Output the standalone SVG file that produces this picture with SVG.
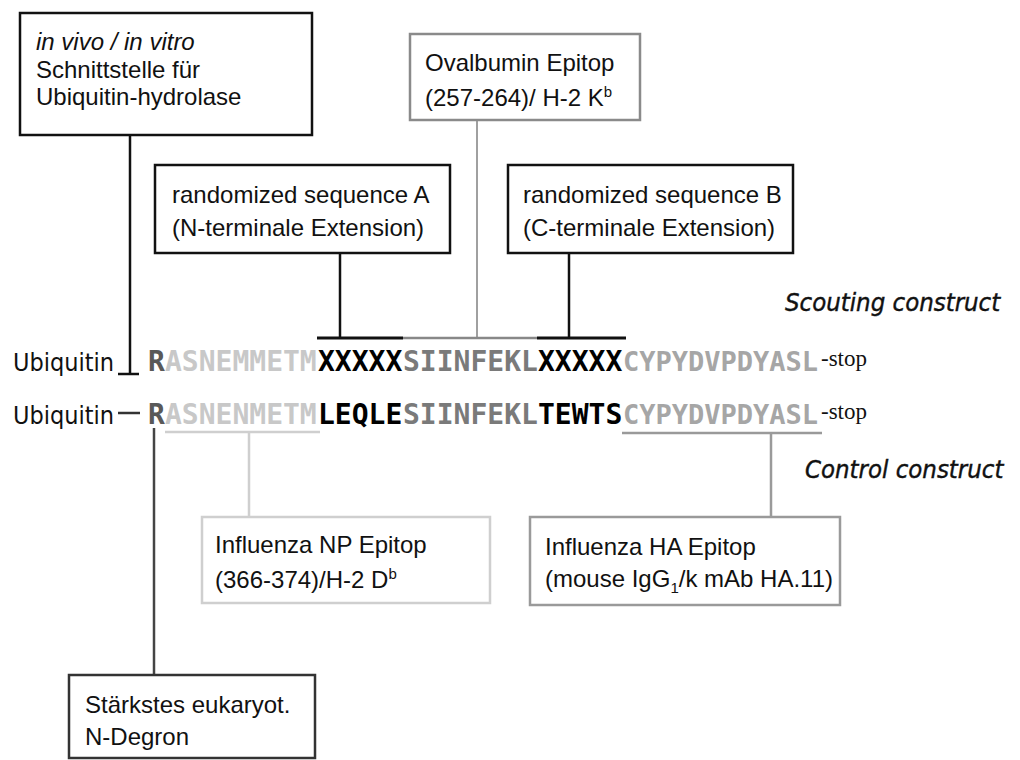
<svg xmlns="http://www.w3.org/2000/svg" width="1020" height="760" viewBox="0 0 1020 760">
<style>
  .box { fill: #fff; stroke-width: 2.5; }
  .lbl { font-family: "Liberation Sans", Arial, sans-serif; font-size: 24px; fill: #111; }
  .hand { font-family: "DejaVu Sans Condensed", "DejaVu Sans", sans-serif; font-size: 25px; fill: #111; }
  .hit { font-family: "DejaVu Sans Condensed", "DejaVu Sans", sans-serif; font-size: 25.5px; font-style: italic; fill: #111; stroke: #111; stroke-width: 0.4; }
  .seq { font-family: "DejaVu Sans Mono", monospace; font-weight: bold; font-size: 28px; }
  .seqs { font-family: "DejaVu Sans Mono", monospace; font-weight: bold; font-size: 27px; }
  .stop { font-family: "Liberation Serif", "Times New Roman", serif; font-size: 23px; fill: #111; }
  .c-r { fill: #595959; }
  .c-lt { fill: #c8c8c8; }
  .c-bk { fill: #000; }
  .c-md { fill: #7a7a7a; }
  .c-gy { fill: #a6a6a6; }
</style>
<rect width="1020" height="760" fill="#fff"/>

<g id="connectors" fill="none">
  <line x1="130" y1="135" x2="130" y2="374" stroke="#111" stroke-width="2.5"/>
  <line x1="118" y1="374" x2="139" y2="374" stroke="#111" stroke-width="2.5"/>
  <line x1="340" y1="253" x2="340" y2="338" stroke="#111" stroke-width="2.5"/>
  <line x1="477" y1="120" x2="477" y2="338" stroke="#a0a0a0" stroke-width="2"/>
  <line x1="569" y1="253" x2="569" y2="338" stroke="#111" stroke-width="2.5"/>
  <line x1="317" y1="338" x2="403" y2="338" stroke="#111" stroke-width="3"/>
  <line x1="403" y1="338" x2="537" y2="338" stroke="#888" stroke-width="2.5"/>
  <line x1="537" y1="338" x2="626" y2="338" stroke="#111" stroke-width="3"/>
  <line x1="118" y1="413" x2="140" y2="413" stroke="#333" stroke-width="2.5"/>
  <line x1="165" y1="432" x2="320" y2="432" stroke="#cfcfcf" stroke-width="2.5"/>
  <line x1="249" y1="432" x2="249" y2="517" stroke="#cfcfcf" stroke-width="2.5"/>
  <line x1="622" y1="433" x2="822" y2="433" stroke="#9a9a9a" stroke-width="2.5"/>
  <line x1="771" y1="433" x2="771" y2="517" stroke="#9a9a9a" stroke-width="2.5"/>
  <line x1="154" y1="428" x2="154" y2="675" stroke="#444" stroke-width="2.5"/>
</g>

<g id="node-hydrolase">
  <rect class="box" x="20" y="13" width="292" height="122" stroke="#111"/>
  <text class="lbl" x="36" y="50" font-style="italic">in vivo / in vitro</text>
  <text class="lbl" x="36" y="78">Schnittstelle für</text>
  <text class="lbl" x="36" y="105">Ubiquitin-hydrolase</text>
</g>

<g id="node-ovalbumin">
  <rect class="box" x="410" y="34" width="230" height="86" stroke="#8a8a8a"/>
  <text class="lbl" x="425" y="71">Ovalbumin Epitop</text>
  <text class="lbl" x="425" y="106">(257-264)/ H-2 K<tspan font-size="15" dy="-9">b</tspan></text>
</g>

<g id="node-seqA">
  <rect class="box" x="155" y="165" width="295" height="88" stroke="#111"/>
  <text class="lbl" x="172" y="203">randomized sequence A</text>
  <text class="lbl" x="172" y="236">(N-terminale Extension)</text>
</g>

<g id="node-seqB">
  <rect class="box" x="508" y="165" width="285" height="88" stroke="#111"/>
  <text class="lbl" x="523" y="203">randomized sequence B</text>
  <text class="lbl" x="523" y="236">(C-terminale Extension)</text>
</g>

<g id="label-scouting">
  <text class="hit" x="785" y="311">Scouting construct</text>
</g>

<g id="row-scouting">
  <text class="hand" x="13" y="371">Ubiquitin</text>
  <text y="371"><tspan class="seq c-r" x="148">R</tspan><tspan class="seq c-lt" x="165">ASNEMMETM</tspan><tspan class="seq c-bk" x="318">XXXXX</tspan><tspan class="seq c-md" x="403">SIINFEKL</tspan><tspan class="seq c-bk" x="538">XXXXX</tspan><tspan class="seqs c-gy" x="623">CYPYDVPDYASL</tspan><tspan class="stop" x="821" dy="-5">-stop</tspan></text>
</g>

<g id="row-control">
  <text class="hand" x="13" y="424">Ubiquitin</text>
  <text y="424"><tspan class="seq c-r" x="148">R</tspan><tspan class="seq c-lt" x="165">ASNENMETM</tspan><tspan class="seq c-bk" x="318">LEQLE</tspan><tspan class="seq c-md" x="403">SIINFEKL</tspan><tspan class="seq c-bk" x="538">TEWTS</tspan><tspan class="seqs c-gy" x="623">CYPYDVPDYASL</tspan><tspan class="stop" x="821" dy="-5">-stop</tspan></text>
</g>

<g id="label-control">
  <text class="hit" x="805" y="478" font-size="26.5px">Control construct</text>
</g>

<g id="node-np">
  <rect class="box" x="202" y="517" width="288" height="86" stroke="#cfcfcf"/>
  <text class="lbl" x="215" y="553">Influenza NP Epitop</text>
  <text class="lbl" x="215" y="588">(366-374)/H-2 D<tspan font-size="15" dy="-9">b</tspan></text>
</g>

<g id="node-ha">
  <rect class="box" x="530" y="517" width="310" height="88" stroke="#9a9a9a"/>
  <text class="lbl" x="545" y="555">Influenza HA Epitop</text>
  <text class="lbl" x="545" y="587">(mouse IgG<tspan font-size="15" dy="6">1</tspan><tspan dy="-6">/k mAb HA.11)</tspan></text>
</g>

<g id="node-degron">
  <rect class="box" x="69" y="675" width="246" height="83" stroke="#333"/>
  <text class="lbl" x="85" y="713">Stärkstes eukaryot.</text>
  <text class="lbl" x="85" y="745">N-Degron</text>
</g>
</svg>
